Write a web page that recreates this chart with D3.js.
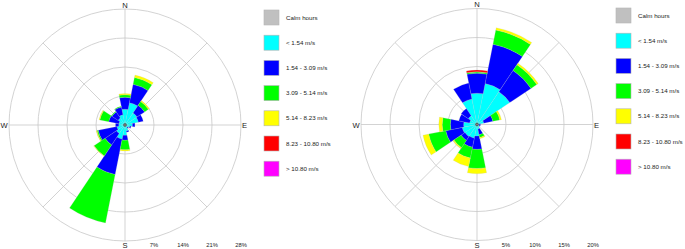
<!DOCTYPE html>
<html lang="en">
<head>
    <meta charset="UTF-8">
    <title>Wind roses</title>
    <style>
        body { margin: 0; background: #fff; }
        text { font-family: "Liberation Sans", Arial, sans-serif; fill: #222; }
    </style>
</head>
<body>
    <div id="content"></div>

    <script src="https://cdn.jsdelivr.net/npm/d3@7/dist/d3.min.js"></script>
    <script>

        const directions = ["N", "NNE", "NE", "ENE", "E", "ESE", "SE", "SSE",
                            "S", "SSW", "SW", "WSW", "W", "WNW", "NW", "NNW"];

        const legendLabels = ["Calm hours", "< 1.54 m/s", "1.54 - 3.09 m/s", "3.09 - 5.14 m/s",
                              "5.14 - 8.23 m/s", "8.23 - 10.80 m/s", "> 10.80 m/s"];
        const legendColors = ["#c0c0c0", "#00ffff", "#0000ff", "#00ff00", "#ffff00", "#ff0000", "#ff00ff"];
        const binKeys = ["b1", "b2", "b3", "b4", "b5", "b6"];

        // frequency (%) per direction, one array per speed bin
        const leftCyan    = [3.8, 5.5, 3.5, 3.3, 1.8, 1.2, 0.8, 1.5, 2.5, 3.5, 2.5, 2.0, 1.5, 1.5, 2.0, 2.5];
        const leftBlue    = [2.9, 4.5, 2.2, 1.2, 0.6, 0.3, 0.2, 0.3, 1.2, 8.7, 3.3, 4.6, 0.8, 2.5, 1.8, 1.9];
        const leftGreen   = [0.6, 1.7, 1.1, 0.0, 0.0, 0.0, 0.0, 0.0, 2.3, 11.9, 3.2, 0.3, 0.0, 2.2, 0.2, 0.2];
        const leftYellow  = [0.3, 0.6, 0.3, 0.0, 0.0, 0.0, 0.0, 0.0, 0.3, 0.0, 0.1, 0.2, 0.0, 0.2, 0.0, 0.0];
        const leftRed     = [0, 0, 0, 0, 0, 0, 0, 0, 0, 0, 0, 0, 0, 0, 0, 0];
        const leftMagenta = [0, 0, 0, 0, 0, 0, 0, 0, 0, 0, 0, 0, 0, 0, 0, 0];
        const leftTicks = [7, 14, 21, 28];

        const rightCyan    = [5.4, 7.2, 6.8, 1.2, 0.3, 0.4, 0.5, 0.8, 2.0, 2.4, 2.5, 2.6, 2.3, 1.3, 1.8, 4.5];
        const rightBlue    = [3.45, 6.9, 4.4, 1.6, 0.3, 0.2, 0.0, 1.0, 2.3, 1.6, 0.8, 2.9, 2.3, 1.9, 1.5, 2.8];
        const rightGreen   = [0.2, 2.5, 1.2, 1.2, 0.0, 0.0, 0.0, 0.5, 3.3, 1.9, 1.5, 3.0, 1.4, 0.0, 0.0, 0.0];
        const rightYellow  = [0.05, 0.4, 0.3, 0.3, 0.0, 0.0, 0.0, 0.2, 0.9, 1.5, 0.2, 1.0, 0.6, 0.0, 0.0, 0.0];
        const rightRed     = [0.3, 0, 0, 0, 0, 0, 0, 0, 0, 0, 0, 0, 0, 0, 0, 0];
        const rightMagenta = [0, 0, 0, 0, 0, 0, 0, 0, 0, 0, 0, 0, 0, 0, 0, 0];
        const rightTicks = [5, 10, 15, 20];

        const svg = d3.select("#content")
            .append("svg")
            .attr("width", 685)
            .attr("height", 249);

        function drawRose(opt) {
            const R = 116;
            const g = svg.append("g").attr("transform", `translate(${opt.cx}, ${opt.cy})`);

            const r = d3.scaleLinear()
                .domain([0, d3.max(opt.ticks)])
                .range([0, R]);

            const angle = d3.scaleBand()
                .domain(directions)
                .range([0, 2 * Math.PI])
                .align(0);
            const half = Math.PI / directions.length;

            const rows = directions.map((d, i) => {
                const row = {dir: d};
                opt.series.forEach((s, k) => row[binKeys[k]] = s[i]);
                return row;
            });
            const stacked = d3.stack().keys(binKeys)(rows);

            // grid
            g.selectAll("circle.ring")
                .data(opt.ticks)
                .join("circle")
                .attr("r", (d) => r(d))
                .attr("fill", "none")
                .attr("stroke", "#c8c8c8")
                .attr("stroke-width", 0.8);

            g.selectAll("line.spoke")
                .data(d3.range(4))
                .join("line")
                .attr("x1", (d) => -R * Math.sin(d * Math.PI / 4))
                .attr("y1", (d) => R * Math.cos(d * Math.PI / 4))
                .attr("x2", (d) => R * Math.sin(d * Math.PI / 4))
                .attr("y2", (d) => -R * Math.cos(d * Math.PI / 4))
                .attr("stroke", "#c8c8c8")
                .attr("stroke-width", 0.8);

            // petals
            const arc = d3.arc();
            stacked.forEach((layer, k) => {
                g.append("g")
                    .selectAll("path")
                    .data(layer.filter((d) => d[1] - d[0] > 0))
                    .join("path")
                    .attr("d", (d) => {
                        const a = angle(d.data.dir);
                        return arc({
                            innerRadius: r(d[0]),
                            outerRadius: r(d[1]),
                            startAngle: a - half,
                            endAngle: a + half
                        });
                    })
                    .attr("fill", legendColors[k + 1])
                    .attr("stroke", "#bbbbbb")
                    .attr("stroke-width", 0.2);
            });

            // calm centre
            g.append("circle")
                .attr("r", 1.4)
                .attr("fill", "#888")
                .attr("stroke", "#222")
                .attr("stroke-width", 0.5);

            // compass letters
            const cards = [
                {t: "N", x: 0, y: -117.5},
                {t: "S", x: 0, y: 123},
                {t: "W", x: -121, y: 3},
                {t: "E", x: 119.5, y: 3}
            ];
            g.selectAll("text.card")
                .data(cards)
                .join("text")
                .attr("x", (d) => d.x)
                .attr("y", (d) => d.y)
                .attr("text-anchor", "middle")
                .attr("font-size", 7.6)
                .text((d) => d.t);

            g.selectAll("text.tick")
                .data(opt.ticks)
                .join("text")
                .attr("x", (d) => r(d))
                .attr("y", 122)
                .attr("text-anchor", "middle")
                .attr("font-size", 5.8)
                .text((d) => d + "%");

            // legend
            const leg = svg.append("g").attr("transform", `translate(${opt.lx}, ${opt.ly})`);
            const item = leg.selectAll("g")
                .data(legendLabels)
                .join("g")
                .attr("transform", (d, i) => `translate(0, ${i * 25.2})`);
            item.append("rect")
                .attr("width", 15)
                .attr("height", 15)
                .attr("fill", (d, i) => legendColors[i])
                .attr("stroke", "#b4b4b4")
                .attr("stroke-width", 0.6);
            item.append("text")
                .attr("x", 22)
                .attr("y", 9.6)
                .attr("font-size", 6.2)
                .text((d) => d);
        }

        drawRose({
            cx: 125, cy: 125,
            ticks: leftTicks,
            series: [leftCyan, leftBlue, leftGreen, leftYellow, leftRed, leftMagenta],
            lx: 264, ly: 10
        });

        drawRose({
            cx: 477, cy: 124.5,
            ticks: rightTicks,
            series: [rightCyan, rightBlue, rightGreen, rightYellow, rightRed, rightMagenta],
            lx: 616, ly: 8
        });

    </script>
</body>
</html>
